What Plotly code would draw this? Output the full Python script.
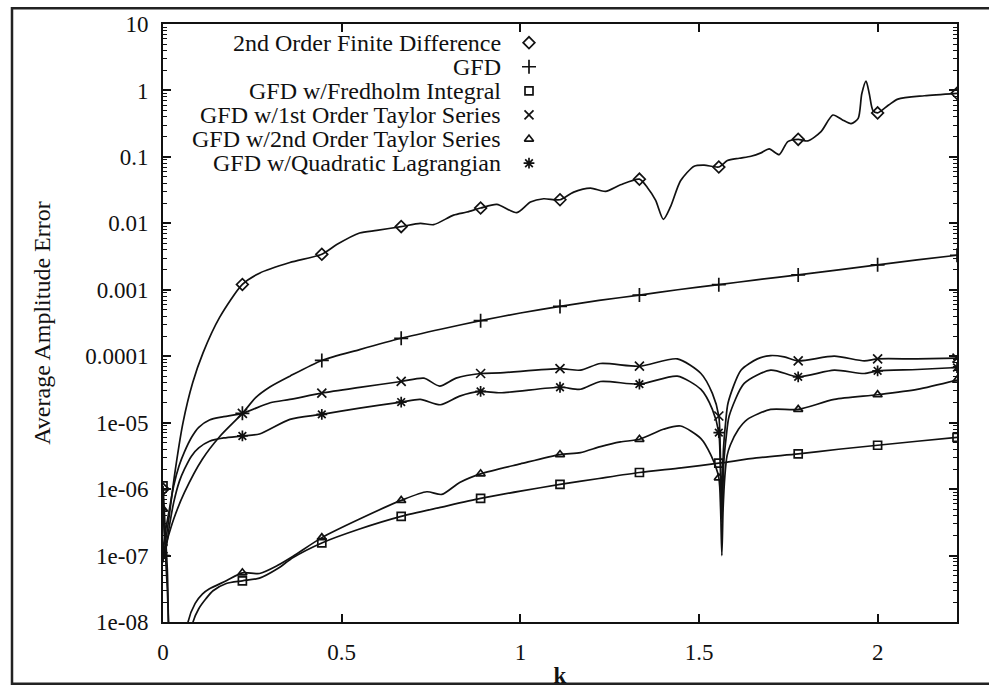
import numpy as np
import plotly.graph_objects as go

# ---------------- data (log10 of average amplitude error) ----------------
MARK_K = [0.0, 0.2221, 0.4443, 0.6664, 0.8886, 1.1107, 1.3329, 1.5550, 1.7771, 1.9993, 2.2214]

fd2_k = [0.0, 0.006, 0.015, 0.032, 0.056, 0.083, 0.112, 0.158, 0.2221, 0.27, 0.355, 0.4443, 0.486,
         0.55, 0.598, 0.6664, 0.72, 0.757, 0.813, 0.85, 0.8886, 0.934, 0.99, 1.028, 1.065, 1.1107,
         1.149, 1.196, 1.238, 1.28, 1.3329, 1.355, 1.378, 1.40, 1.42, 1.448, 1.486, 1.514, 1.5550,
         1.579, 1.612, 1.645, 1.673, 1.696, 1.724, 1.748, 1.7771, 1.804, 1.841, 1.874, 1.90, 1.925,
         1.945, 1.955, 1.967, 1.976, 1.986, 1.9993, 2.03, 2.056, 2.13, 2.2214]
fd2_log = [-6.0, -6.8, -6.5, -5.8, -5.0, -4.4, -3.95, -3.42, -2.92, -2.75, -2.59, -2.466, -2.32,
           -2.146, -2.107, -2.049, -2.0, -2.02, -1.876, -1.83, -1.77, -1.714, -1.84, -1.68, -1.63, -1.645,
           -1.53, -1.47, -1.52, -1.42, -1.335, -1.46, -1.65, -1.94, -1.75, -1.36, -1.14, -1.124, -1.153,
           -1.055, -1.02, -0.99, -0.94, -0.88, -0.966, -0.77, -0.736, -0.76, -0.62, -0.37, -0.44, -0.5,
           -0.42, -0.05, 0.14, -0.05, -0.3, -0.338, -0.22, -0.13, -0.08, -0.043]

gfd_k = [0.0, 0.01, 0.03, 0.06, 0.11, 0.16, 0.2221, 0.26, 0.30, 0.355, 0.4443, 0.55, 0.6664, 0.78,
         0.8886, 1.0, 1.1107, 1.22, 1.3329, 1.44, 1.5550, 1.66, 1.7771, 1.89, 1.9993, 2.11, 2.2214]
gfd_log = [-7.0, -6.8, -6.45, -6.05, -5.55, -5.2, -4.86, -4.62, -4.46, -4.3, -4.064, -3.9, -3.73, -3.59,
           -3.465, -3.35, -3.25, -3.16, -3.08, -3.0, -2.923, -2.85, -2.776, -2.70, -2.624, -2.55, -2.48]

fr_k = [0.0, 0.012, 0.025, 0.06, 0.075, 0.084, 0.1, 0.12, 0.14, 0.177, 0.2221, 0.27, 0.32, 0.364,
        0.4443, 0.55, 0.6664, 0.78, 0.8886, 1.0, 1.1107, 1.22, 1.3329, 1.45, 1.5550, 1.66, 1.7771,
        1.89, 1.9993, 2.11, 2.2214]
fr_log = [-5.95, -7.2, -9.0, -9.5, -8.5, -8.0, -7.8, -7.65, -7.53, -7.42, -7.38, -7.34, -7.2, -7.03,
          -6.81, -6.6, -6.41, -6.27, -6.14, -6.03, -5.93, -5.84, -5.75, -5.68, -5.61, -5.53, -5.47,
          -5.40, -5.34, -5.28, -5.22]

t1_k = [0.0, 0.008, 0.018, 0.03, 0.045, 0.06, 0.08, 0.1, 0.13, 0.17, 0.2221, 0.30, 0.355, 0.4443,
        0.55, 0.6664, 0.73, 0.774, 0.82, 0.8886, 0.944, 1.1107, 1.168, 1.224, 1.3329, 1.439, 1.505,
        1.537, 1.5550, 1.559, 1.5635, 1.568, 1.574, 1.581, 1.617, 1.663, 1.70, 1.738, 1.7771, 1.878,
        1.962, 1.9993, 2.11, 2.2214]
t1_log = [-6.9, -6.6, -6.3, -5.95, -5.65, -5.44, -5.22, -5.07, -4.96, -4.91, -4.86, -4.70, -4.65, -4.556,
          -4.47, -4.38, -4.33, -4.45, -4.33, -4.26, -4.25, -4.187, -4.21, -4.11, -4.15, -4.04, -4.26,
          -4.56, -4.9, -5.4, -6.3, -5.4, -5.0, -4.70, -4.21, -4.04, -3.99, -4.01, -4.07, -4.0,
          -4.07, -4.04, -4.04, -4.03]

t2_k = [0.0, 0.012, 0.025, 0.05, 0.062, 0.07, 0.09, 0.11, 0.13, 0.177, 0.2221, 0.27, 0.32, 0.364,
        0.4443, 0.55, 0.6664, 0.738, 0.78, 0.83, 0.8886, 1.0, 1.1107, 1.168, 1.224, 1.28, 1.3329, 1.40,
        1.448, 1.505, 1.533, 1.5550, 1.560, 1.5635, 1.567, 1.572, 1.578, 1.587, 1.61, 1.635, 1.70,
        1.7771, 1.878, 1.9993, 2.11, 2.2214]
t2_log = [-6.3, -7.5, -9.0, -9.5, -8.5, -8.0, -7.72, -7.58, -7.5, -7.38, -7.26, -7.27, -7.15, -7.01,
          -6.73, -6.45, -6.17, -6.04, -6.08, -5.9, -5.77, -5.62, -5.48, -5.45, -5.36, -5.29, -5.25, -5.1,
          -5.05, -5.24, -5.49, -5.83, -6.3, -7.0, -6.3, -5.8, -5.5, -5.34, -5.1, -4.95, -4.80,
          -4.80, -4.65, -4.58, -4.5, -4.36]

ql_k = [0.0, 0.008, 0.018, 0.03, 0.046, 0.06, 0.08, 0.1, 0.13, 0.17, 0.2221, 0.27, 0.355, 0.4443,
        0.55, 0.6664, 0.72, 0.776, 0.83, 0.8886, 0.944, 1.1107, 1.168, 1.224, 1.3329, 1.439, 1.505,
        1.537, 1.5550, 1.559, 1.5635, 1.569, 1.576, 1.584, 1.626, 1.70, 1.7771, 1.878, 1.962, 1.9993,
        2.11, 2.2214]
ql_log = [-7.0, -6.9, -6.55, -6.2, -5.88, -5.7, -5.5, -5.38, -5.28, -5.23, -5.2, -5.17, -4.95, -4.875,
          -4.78, -4.69, -4.65, -4.73, -4.6, -4.53, -4.55, -4.467, -4.497, -4.38, -4.42, -4.30, -4.5,
          -4.80, -5.15, -5.6, -6.5, -5.6, -5.2, -4.90, -4.41, -4.21, -4.31, -4.21, -4.26, -4.22,
          -4.2, -4.17]

SERIES = [
    ("2nd Order Finite Difference", fd2_k, fd2_log, "diamond-open", 9),
    ("GFD", gfd_k, gfd_log, "cross-thin-open", 10),
    ("GFD w/Fredholm Integral", fr_k, fr_log, "square-open", 8),
    ("GFD w/1st Order Taylor Series", t1_k, t1_log, "x-thin-open", 9),
    ("GFD w/2nd Order Taylor Series", t2_k, t2_log, "triangle-up-open", 8),
    ("GFD w/Quadratic Lagrangian", ql_k, ql_log, "asterisk-open", 9),
]

Y_TICKVALS = [1e-8, 1e-7, 1e-6, 1e-5, 1e-4, 1e-3, 1e-2, 1e-1, 1, 10]
Y_TICKTEXT = ["1e-08", "1e-07", "1e-06", "1e-05", "0.0001", "0.001", "0.01", "0.1", "1", "10"]
X_TICKVALS = [0, 0.5, 1, 1.5, 2]
X_TICKTEXT = ["0", "0.5", "1", "1.5", "2"]

INK = "#111111"
FONT = "Liberation Serif"
FS = 23

fig = go.Figure()
for name, ks, ls, sym, sz in SERIES:
    ks = np.array(ks)
    vals = 10 ** np.array(ls)
    fig.add_trace(go.Scatter(x=ks, y=vals, mode="lines",
                             line=dict(color=INK, width=1.7, shape="spline", smoothing=0.7),
                             showlegend=False, hoverinfo="skip"))
    sel = np.array([np.any(np.isclose(k, MARK_K, atol=1e-4)) for k in ks])
    fig.add_trace(go.Scatter(x=ks[sel], y=vals[sel], mode="markers", cliponaxis=True,
                             marker=dict(symbol=sym, size=sz, color=INK, line=dict(color=INK, width=1.7)),
                             showlegend=False, hoverinfo="skip"))

# legend (text right-aligned, key symbol on the right, gnuplot style) drawn on an overlay axis
L, R, T, B = 163, 32, 21, 65
W, H = 989, 696
pw, ph = W - L - R, H - T - B
def px2paper(px, py):
    return (px - L) / pw, (H - B - py) / ph

for i, (name, ks, ls, sym, sz) in enumerate(SERIES):
    tx, ty = px2paper(503, 40 + 24.6 * i)
    sx, _ = px2paper(529, 0)
    fig.add_annotation(x=tx, y=ty, xref="paper", yref="paper", text=name, showarrow=False,
                       xanchor="right", yanchor="middle", font=dict(family=FONT, size=24, color=INK))
    fig.add_trace(go.Scatter(x=[sx], y=[ty], xaxis="x2", yaxis="y2", mode="markers",
                             marker=dict(symbol=sym, size=sz, color=INK, line=dict(color=INK, width=1.7)),
                             showlegend=False, hoverinfo="skip"))

minor_vals = [m * 10.0 ** e for e in range(-8, 1) for m in range(2, 10)]

fig.update_layout(
    width=W, height=H,
    margin=dict(l=L, r=R, t=T, b=B),
    paper_bgcolor="white", plot_bgcolor="white",
    font=dict(family=FONT, size=FS, color=INK),
    showlegend=False,
    xaxis=dict(range=[0, 2.2214], tickmode="array", tickvals=X_TICKVALS, ticktext=X_TICKTEXT,
               ticks="inside", ticklen=8, tickwidth=1.5, tickcolor=INK,
               showline=True, linecolor=INK, linewidth=2, mirror="ticks", showgrid=False, zeroline=False,
               ticklabelstandoff=8, tickfont=dict(family=FONT, size=FS, color=INK),
               title=dict(text="<b>k</b>", font=dict(family=FONT, size=FS, color=INK), standoff=3)),
    yaxis=dict(type="log", range=[-8, 1], tickmode="array", tickvals=Y_TICKVALS, ticktext=Y_TICKTEXT,
               ticks="inside", ticklen=8, tickwidth=1.5, tickcolor=INK,
               minor=dict(tickmode="array", tickvals=minor_vals, ticks="inside", ticklen=4,
                          tickwidth=1.2, tickcolor=INK, showgrid=False),
               showline=True, linecolor=INK, linewidth=2, mirror="ticks", showgrid=False, zeroline=False,
               ticklabelstandoff=8, tickfont=dict(family=FONT, size=FS, color=INK),
               title=dict(text="Average Amplitude Error", font=dict(family=FONT, size=24, color=INK),
                          standoff=28)),
    xaxis2=dict(range=[0, 1], overlaying="x", visible=False, fixedrange=True),
    yaxis2=dict(range=[0, 1], overlaying="y", visible=False, fixedrange=True),
)

# outer frame of the scanned figure
fx0, fy1 = px2paper(12, 5)
fx1, fy0 = px2paper(1000, 694)
fig.add_shape(type="rect", xref="paper", yref="paper", x0=fx0, x1=fx1, y0=fy0, y1=fy1,
              line=dict(color="#222222", width=2.5), layer="above")

fig.write_html("out.html")
